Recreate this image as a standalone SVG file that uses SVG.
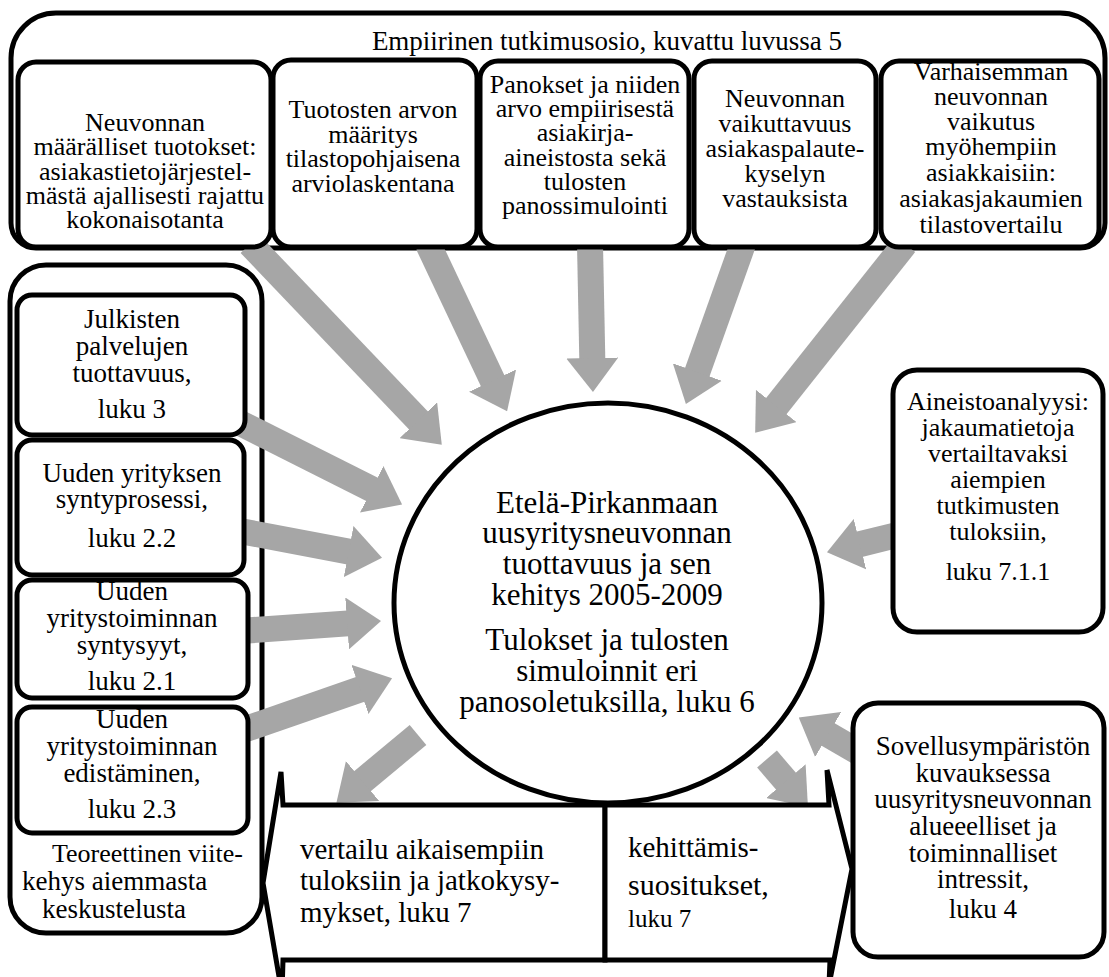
<svg xmlns="http://www.w3.org/2000/svg" width="1109" height="977" viewBox="0 0 1109 977">
<style>
.cont{fill:none;stroke:#000;stroke-width:5}
.box{fill:#fff;stroke:#000;stroke-width:5}
.arr{fill:none;stroke:#a6a6a6;stroke-width:26;marker-end:url(#ah)}
text{font-family:"Liberation Serif","Times New Roman",serif;fill:#000}
.t{font-size:26px;text-anchor:middle}
.ti{font-size:27px;text-anchor:middle}
.l{font-size:27px;text-anchor:middle}
.c{font-size:31px;text-anchor:middle}
.b{font-size:29px}
.b30{font-size:30px}
.b25{font-size:25px}
.k{font-size:26px}
.k2{font-size:27px}
</style>
<defs>
<marker id="ah" viewBox="0 0 34 52" markerWidth="1.3077" markerHeight="2" refX="1" refY="26" orient="auto" markerUnits="strokeWidth">
<path d="M0,0 L34,26 L0,52 Z" fill="#a6a6a6"/>
</marker>
</defs>

<g id="containers">
<path class="cont" d="M56,13 H1060 A45,45 0 0 1 1105,58 V223 A25,25 0 0 1 1080,248 H36 A25,25 0 0 1 11,223 V58 A45,45 0 0 1 56,13 Z"/>
<text class="ti" x="607" y="50">Empiirinen tutkimusosio, kuvattu luvussa 5</text>
<rect class="cont" x="10" y="265" width="252" height="668" rx="36"/>
<text class="k" x="52" y="862">Teoreettinen viite-</text>
<text class="k2" x="22" y="890">kehys aiemmasta</text>
<text class="k2" x="42" y="918">keskustelusta</text>
</g>

<g id="connectors">
<line class="arr" x1="250" y1="244" x2="419" y2="421"/>
<line class="arr" x1="428" y1="244" x2="493" y2="381.5"/>
<line class="arr" x1="590" y1="244" x2="592.3" y2="359"/>
<line class="arr" x1="743" y1="244" x2="697" y2="373"/>
<line class="arr" x1="905" y1="244" x2="775.7" y2="406.8"/>
<line class="arr" x1="897" y1="535" x2="859" y2="544.4"/>
<line class="arr" x1="860" y1="753" x2="827.3" y2="734.1"/>
<line class="arr" x1="240" y1="423" x2="372.6" y2="489.7"/>
<line class="arr" x1="240" y1="531" x2="349.6" y2="551.7"/>
<line class="arr" x1="240" y1="631" x2="348.1" y2="623.4"/>
<line class="arr" x1="240" y1="731" x2="360.9" y2="689.1"/>
<line class="arr" x1="418" y1="735" x2="361.8" y2="781.7"/>
<line class="arr" x1="767" y1="759" x2="786.5" y2="781.8"/>
</g>

<g id="top1">
<rect class="box" x="18" y="62" width="253" height="185" rx="18"/>
<text class="t" x="145" y="131">Neuvonnan</text>
<text class="t" x="145" y="155">määrälliset tuotokset:</text>
<text class="t" x="145" y="180">asiakastietojärjestel-</text>
<text class="t" x="145" y="204">mästä ajallisesti rajattu</text>
<text class="t" x="145" y="228">kokonaisotanta</text>
</g>
<g id="top2">
<rect class="box" x="273" y="60" width="204" height="187" rx="18"/>
<text class="t" x="373" y="118">Tuotosten arvon</text>
<text class="t" x="373" y="143">määritys</text>
<text class="t" x="373" y="167">tilastopohjaisena</text>
<text class="t" x="373" y="192">arviolaskentana</text>
</g>
<g id="top3">
<rect class="box" x="480" y="61" width="209" height="186" rx="18"/>
<text class="t" x="585" y="93">Panokset ja niiden</text>
<text class="t" x="585" y="117">arvo empiirisestä</text>
<text class="t" x="585" y="141">asiakirja-</text>
<text class="t" x="585" y="166">aineistosta sekä</text>
<text class="t" x="585" y="190">tulosten</text>
<text class="t" x="585" y="214">panossimulointi</text>
</g>
<g id="top4">
<rect class="box" x="694" y="61" width="182" height="186" rx="18"/>
<text class="t" x="785" y="107">Neuvonnan</text>
<text class="t" x="785" y="132">vaikuttavuus</text>
<text class="t" x="785" y="157">asiakaspalaute-</text>
<text class="t" x="785" y="182">kyselyn</text>
<text class="t" x="785" y="207">vastauksista</text>
</g>
<g id="top5">
<rect class="box" x="881" y="61" width="218" height="186" rx="18"/>
<text class="t" x="991" y="80">Varhaisemman</text>
<text class="t" x="991" y="105">neuvonnan</text>
<text class="t" x="991" y="130">vaikutus</text>
<text class="t" x="991" y="155">myöhempiin</text>
<text class="t" x="991" y="181">asiakkaisiin:</text>
<text class="t" x="991" y="207">asiakasjakaumien</text>
<text class="t" x="991" y="233">tilastovertailu</text>
</g>

<g id="left1">
<rect class="box" x="17" y="295" width="228" height="140" rx="15"/>
<text class="l" x="132" y="328">Julkisten</text>
<text class="l" x="132" y="355">palvelujen</text>
<text class="l" x="132" y="382">tuottavuus,</text>
<text class="l" x="132" y="418">luku 3</text>
</g>
<g id="left2">
<rect class="box" x="17" y="440" width="227" height="135" rx="15"/>
<text class="l" x="132" y="482">Uuden yrityksen</text>
<text class="l" x="132" y="508">syntyprosessi,</text>
<text class="l" x="132" y="547">luku 2.2</text>
</g>
<g id="left3">
<rect class="box" x="17" y="580" width="231" height="118" rx="15"/>
<text class="l" x="132" y="600">Uuden</text>
<text class="l" x="132" y="627">yritystoiminnan</text>
<text class="l" x="132" y="654">syntysyyt,</text>
<text class="l" x="132" y="690">luku 2.1</text>
</g>
<g id="left4">
<rect class="box" x="17" y="707" width="231" height="126" rx="15"/>
<text class="l" x="132" y="728">Uuden</text>
<text class="l" x="132" y="755">yritystoiminnan</text>
<text class="l" x="132" y="782">edistäminen,</text>
<text class="l" x="132" y="818">luku 2.3</text>
</g>

<g id="right1">
<rect class="box" x="893" y="370" width="210" height="262" rx="24"/>
<text class="t" x="998" y="410">Aineistoanalyysi:</text>
<text class="t" x="998" y="436">jakaumatietoja</text>
<text class="t" x="998" y="462">vertailtavaksi</text>
<text class="t" x="998" y="488">aiempien</text>
<text class="t" x="998" y="514">tutkimusten</text>
<text class="t" x="998" y="540">tuloksiin,</text>
<text class="t" x="998" y="580">luku 7.1.1</text>
</g>
<g id="right2">
<rect class="box" x="853" y="703" width="251" height="254" rx="25"/>
<text class="l" x="983" y="755">Sovellusympäristön</text>
<text class="l" x="983" y="782">kuvauksessa</text>
<text class="l" x="983" y="808">uusyritysneuvonnan</text>
<text class="l" x="983" y="835">alueeelliset ja</text>
<text class="l" x="983" y="862">toiminnalliset</text>
<text class="l" x="983" y="888">intressit,</text>
<text class="l" x="983" y="918">luku 4</text>
</g>

<g id="center">
<ellipse class="box" cx="608" cy="603" rx="214" ry="200"/>
<text class="c" x="607" y="513">Etelä-Pirkanmaan</text>
<text class="c" x="607" y="543">uusyritysneuvonnan</text>
<text class="c" x="607" y="574">tuottavuus ja sen</text>
<text class="c" x="607" y="605">kehitys 2005-2009</text>
<text class="c" x="607" y="650">Tulokset ja tulosten</text>
<text class="c" x="607" y="681">simuloinnit eri</text>
<text class="c" x="607" y="712">panosoletuksilla, luku 6</text>
</g>

<g id="bottom-left">
<path class="box" d="M605,805 H283 L281,772 L263,883 L282,994 L283,960 H605 Z"/>
<text class="b" x="300" y="859">vertailu aikaisempiin</text>
<text class="b" x="300" y="890">tuloksiin ja jatkokysy-</text>
<text class="b" x="300" y="922">mykset, luku 7</text>
</g>
<g id="bottom-right">
<path class="box" d="M605,805 H829 L827,770 L852,869 L829,985 L830,960 H605 Z"/>
<text class="b" x="628" y="857">kehittämis-</text>
<text class="b30" x="628" y="895">suositukset,</text>
<text class="b25" x="628" y="927">luku 7</text>
</g>
</svg>
